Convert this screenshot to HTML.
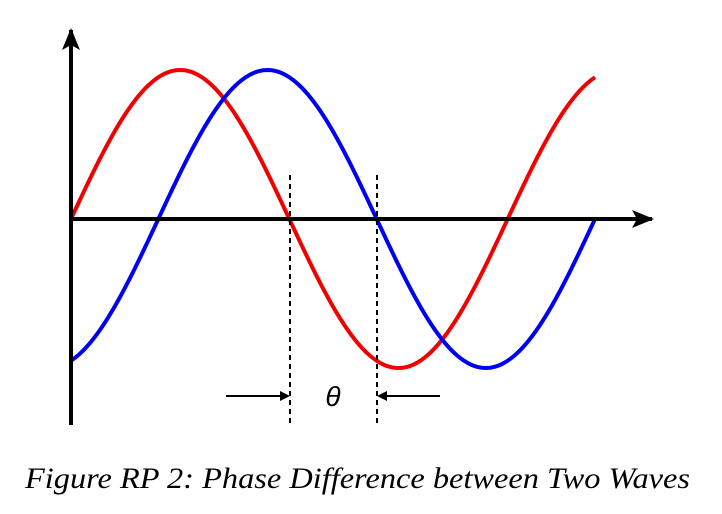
<!DOCTYPE html>
<html><head><meta charset="utf-8"><style>
html,body{margin:0;padding:0;background:#fff;}
svg{display:block;}
.cap{font-family:"Liberation Serif",serif;font-style:italic;font-size:30px;}
</style></head><body>
<svg id="chart" width="722" height="514" viewBox="0 0 722 514">
<defs>
<marker id="ah" markerWidth="10" markerHeight="10" refX="8" refY="5" orient="auto" markerUnits="userSpaceOnUse"><path d="M0,0 L10,5 L0,10 Z" fill="#000"/></marker>
<marker id="ahBig" markerWidth="22" markerHeight="18" refX="20" refY="9" orient="auto" markerUnits="userSpaceOnUse"><path d="M0,0 L22,9 L0,18 L5,9 Z" fill="#000"/></marker>
</defs>
<g id="waves"></g>
<line x1="71" y1="425" x2="71" y2="30" stroke="#000" stroke-width="4" marker-end="url(#ahBig)"/>
<line x1="69" y1="219" x2="652" y2="219" stroke="#000" stroke-width="4" marker-end="url(#ahBig)"/>
<line x1="290" y1="175" x2="290" y2="425" stroke="#000" stroke-width="2" stroke-dasharray="5,4"/>
<line x1="377" y1="175" x2="377" y2="425" stroke="#000" stroke-width="2" stroke-dasharray="5,4"/>
<line x1="226" y1="396" x2="288" y2="396" stroke="#000" stroke-width="2" marker-end="url(#ah)"/>
<line x1="440" y1="396" x2="379" y2="396" stroke="#000" stroke-width="2" marker-end="url(#ah)"/>
<text x="333" y="406" text-anchor="middle" style="font-family:'Liberation Sans',sans-serif;font-style:italic;font-size:28px">θ</text>
<text class="cap" x="25" y="488" textLength="665" lengthAdjust="spacingAndGlyphs">Figure RP 2: Phase Difference between Two Waves</text>
</svg>
<script>
const seriesNames = ['red-wave', 'blue-wave'];
const seriesColors = ['#f00000', '#0000f0'];
const seriesPhaseDeg = [0, -72];
const amplitude = [1, 1];
const xDomain = [0, 1.2];
const yDomain = [-1, 1];
const xS = v => 71 + (v - xDomain[0]) / (xDomain[1] - xDomain[0]) * (595 - 71);
const yS = v => 219 - (v / yDomain[1]) * 149;
const g = document.getElementById('waves');
seriesNames.forEach((name, i) => {
  let d = '';
  for (let k = 0; k <= 240; k++) {
    const t = xDomain[0] + (xDomain[1] - xDomain[0]) * k / 240;
    const v = amplitude[i] * Math.sin(2 * Math.PI * t + seriesPhaseDeg[i] * Math.PI / 180);
    d += (k ? 'L' : 'M') + xS(t).toFixed(2) + ',' + yS(v).toFixed(2);
  }
  const p = document.createElementNS('http://www.w3.org/2000/svg', 'path');
  p.setAttribute('d', d);
  p.setAttribute('fill', 'none');
  p.setAttribute('stroke', seriesColors[i]);
  p.setAttribute('stroke-width', '4');
  
  
  g.appendChild(p);
});
</script>
</body></html>
